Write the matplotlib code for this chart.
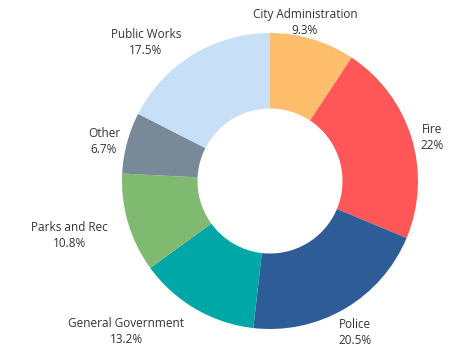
import matplotlib.pyplot as plt

labels = ['City Administration', 'Fire', 'Police', 'General Government',
          'Parks and Rec', 'Other', 'Public Works']
values = [9.3, 22, 20.5, 13.2, 10.8, 6.7, 17.5]
pct_text = ['9.3%', '22%', '20.5%', '13.2%', '10.8%', '6.7%', '17.5%']
colors = ['#FFBE6B', '#FF5757', '#2E5C97', '#00A7A7', '#80B970', '#788A97', '#C7E0F7']

# label centres in axes data units (radius = 1)
label_pos = [(0.236, 1.068), (1.095, 0.297), (0.574, -1.027), (-0.973, -1.020),
             (-1.358, -0.365), (-1.122, 0.264), (-0.838, 0.939)]

plt.rcParams['font.family'] = ['Open Sans', 'DejaVu Sans']

fig = plt.figure(figsize=(4.74, 3.55), dpi=100)
cx, cy, r = 270, 181, 148
ax = fig.add_axes([(cx - r) / 474, (355 - cy - r) / 355, 2 * r / 474, 2 * r / 355])

ax.pie(values, colors=colors, startangle=90, counterclock=False,
       radius=1, wedgeprops=dict(width=0.51, edgecolor='none'))
ax.set_xlim(-1, 1)
ax.set_ylim(-1, 1)
ax.set_aspect('equal')
ax.axis('off')

for lab, pct, (x, y) in zip(labels, pct_text, label_pos):
    ax.text(x, y, lab + '\n' + pct, ha='center', va='center', fontsize=8.5,
            color='#333333', linespacing=1.3, clip_on=False)

fig.savefig('out.png', dpi=100)
